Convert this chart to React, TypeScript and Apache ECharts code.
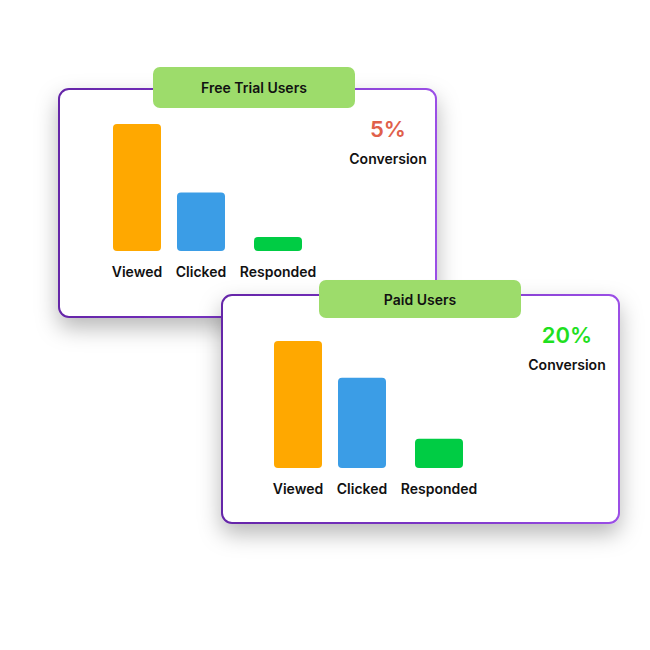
import React, { useEffect, useRef } from "react";
import * as echarts from "echarts";

const categories = ["Viewed", "Clicked", "Responded"];
const freeTrialValues = [100, 46, 11];
const paidValues = [100, 71, 23];
const cardTitles = ["Free Trial Users", "Paid Users"];
const conversionRates = ["5%", "20%"];
const conversionLabel = "Conversion";

const barColors = ["#FFA800", "#3B9DE6", "#00CC44"];
const rateColors = ["#E0604A", "#1FE01F"];
const FONT = "Inter, 'Noto Sans', sans-serif";

export default function App() {
  const ref = useRef<HTMLDivElement>(null);
  useEffect(() => {
    document.body.style.margin = "0";
    const chart = echarts.init(ref.current!, null, { renderer: "svg" });

    const cards = [
      {
        x: 58, y: 88, w: 379, h: 230,
        pill: { x: 153, y: 67, w: 202, h: 41 },
        values: freeTrialValues,
        barCenters: [79, 143, 220],
        plotTop: 36,
        rateDx: 49,
      },
      {
        x: 221, y: 294, w: 399, h: 230,
        pill: { x: 319, y: 280, w: 202, h: 38 },
        values: paidValues,
        barCenters: [77, 141, 218],
        plotTop: 47,
        rateDx: 53,
      },
    ];
    const barWidth = 48;
    const plotHeight = 127;

    const grids: any[] = [];
    const xAxes: any[] = [];
    const yAxes: any[] = [];
    const series: any[] = [];
    const graphics: any[] = [];

    cards.forEach((c, ci) => {
      graphics.push({
        type: "rect",
        z: ci * 10 + 1,
        shape: { x: c.x + 1, y: c.y + 1, width: c.w - 2, height: c.h - 2, r: 10 },
        style: {
          fill: "#ffffff",
          stroke: new echarts.graphic.LinearGradient(0, 0, 1, 0, [
            { offset: 0, color: "#6526A8" },
            { offset: 0.5, color: "#7A34C4" },
            { offset: 1, color: "#9B4FE6" },
          ]),
          lineWidth: 2,
          shadowBlur: 22,
          shadowOffsetY: 10,
          shadowColor: "rgba(0,0,0,0.28)",
        },
      });
      graphics.push({
        type: "rect",
        z: ci * 10 + 2,
        shape: { x: c.pill.x, y: c.pill.y, width: c.pill.w, height: c.pill.h, r: 7 },
        style: { fill: "#9DDC6B" },
      });
      graphics.push({
        type: "text",
        z: ci * 10 + 3,
        x: c.pill.x + c.pill.w / 2,
        y: c.pill.y + c.pill.h / 2,
        style: {
          text: cardTitles[ci],
          fill: "#111111",
          font: `600 14px ${FONT}`,
          align: "center",
          verticalAlign: "middle",
        },
      });
      const rx = c.x + c.w - c.rateDx;
      graphics.push({
        type: "text",
        z: ci * 10 + 3,
        x: rx,
        y: c.y + 41,
        style: {
          text: conversionRates[ci],
          fill: rateColors[ci],
          font: `600 22px ${FONT}`,
          align: "center",
          verticalAlign: "middle",
        },
      });
      graphics.push({
        type: "text",
        z: ci * 10 + 3,
        x: rx,
        y: c.y + 70,
        style: {
          text: conversionLabel,
          fill: "#111111",
          font: `600 14px ${FONT}`,
          align: "center",
          verticalAlign: "middle",
        },
      });

      categories.forEach((cat, k) => {
        const idx = grids.length;
        grids.push({
          left: c.x + c.barCenters[k] - barWidth / 2,
          top: c.y + c.plotTop,
          width: barWidth,
          height: plotHeight,
          containLabel: false,
        });
        xAxes.push({
          type: "category",
          gridIndex: idx,
          data: [cat],
          z: 50,
          axisLine: { show: false },
          axisTick: { show: false },
          axisLabel: {
            margin: 13,
            color: "#111111",
            fontFamily: FONT,
            fontSize: 14,
            fontWeight: 600,
          },
        });
        yAxes.push({ type: "value", gridIndex: idx, min: 0, max: 100, show: false });
        series.push({
          type: "bar",
          xAxisIndex: idx,
          yAxisIndex: idx,
          z: 50,
          barWidth: barWidth,
          data: [c.values[k]],
          itemStyle: { color: barColors[k], borderRadius: 4 },
          silent: true,
        });
      });
    });

    chart.setOption({
      animation: false,
      backgroundColor: "#ffffff",
      grid: grids,
      xAxis: xAxes,
      yAxis: yAxes,
      series,
      graphic: { elements: graphics },
    });
    return () => chart.dispose();
  }, []);
  return <div ref={ref} style={{ width: 650, height: 650 }} />;
}
